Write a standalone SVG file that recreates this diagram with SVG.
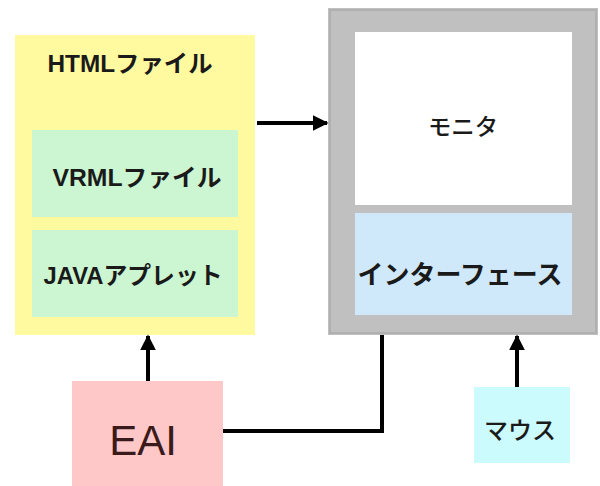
<svg xmlns="http://www.w3.org/2000/svg" width="600" height="486" viewBox="0 0 600 486">
<style>
.t{font-family:"Liberation Sans","Noto Sans CJK JP",sans-serif;fill:#1a1a1a;text-anchor:middle;dominant-baseline:central}
.b{font-weight:bold}
.c{stroke:#000;stroke-width:4;fill:none}
</style>
<defs>
<marker id="ah" viewBox="0 0 10 10" refX="9" refY="5" markerWidth="4" markerHeight="4" markerUnits="strokeWidth" orient="auto">
<path d="M0,0 L10,5 L0,10 z" fill="#000"/>
</marker>
</defs>
<rect width="600" height="486" fill="#fff"/>
<g id="html">
<rect x="15" y="35" width="240" height="300" fill="#fff9a0"/>
<text class="t b" x="130" y="63" font-size="24" textLength="165" lengthAdjust="spacingAndGlyphs">HTMLファイル</text>
</g>
<g id="vrml">
<rect x="32" y="130" width="206" height="87" fill="#ccf5d2"/>
<text class="t b" x="137" y="177" font-size="24" textLength="169" lengthAdjust="spacingAndGlyphs">VRMLファイル</text>
</g>
<g id="java">
<rect x="32" y="230" width="206" height="87" fill="#ccf5d2"/>
<text class="t b" x="133" y="275" font-size="24" textLength="179" lengthAdjust="spacingAndGlyphs">JAVAアプレット</text>
</g>
<g id="system">
<rect x="328" y="8" width="270" height="327" fill="#c0c0c0"/>
<rect x="330" y="10" width="266" height="323" fill="none" stroke="#b0b0b0" stroke-width="2"/>
</g>
<g id="monitor">
<rect x="355" y="32" width="217" height="173" fill="#fff"/>
<text class="t" x="463" y="127" font-size="23" font-weight="500" textLength="70" lengthAdjust="spacingAndGlyphs">モニタ</text>
</g>
<g id="interface">
<rect x="355" y="213" width="217" height="102" fill="#cfe9fb"/>
<text class="t b" x="460" y="275" font-size="26" textLength="205" lengthAdjust="spacingAndGlyphs">インターフェース</text>
</g>
<g id="eai">
<rect x="72" y="381" width="151" height="105" fill="#ffc8c8"/>
<text class="t" x="143" y="440" font-size="42" style="fill:#3a1a1a">EAI</text>
</g>
<g id="mouse">
<rect x="474" y="387" width="96" height="76" fill="#ccfbfd"/>
<text class="t" x="520" y="430" font-size="24" font-weight="500" textLength="72" lengthAdjust="spacingAndGlyphs">マウス</text>
</g>
<g id="connectors">
<line class="c" x1="257" y1="123" x2="327" y2="123" marker-end="url(#ah)"/>
<line class="c" x1="148" y1="381" x2="148" y2="336" marker-end="url(#ah)"/>
<line class="c" x1="517" y1="387" x2="517" y2="336" marker-end="url(#ah)"/>
<polyline class="c" points="223,431 382,431 382,335"/>
</g>
</svg>
